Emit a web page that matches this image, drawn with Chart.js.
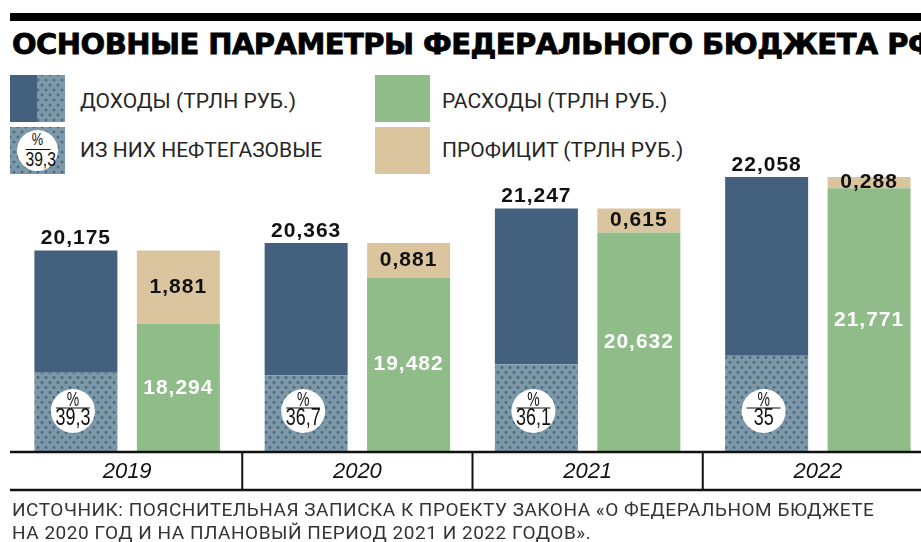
<!DOCTYPE html>
<html lang="ru">
<head>
<meta charset="utf-8">
<title>Основные параметры федерального бюджета РФ</title>
<script src="https://cdn.jsdelivr.net/npm/chart.js@4/dist/chart.umd.min.js"></script>
<style>
    html, body {
        margin: 0;
        padding: 0;
        width: 921px;
        height: 542px;
        overflow: hidden;
        background: #fff;
    }
    body { position: relative; font-family: Roboto, "Liberation Sans", sans-serif; color: #262626; }
    .rule { position: absolute; left: 10px; right: 0; top: 13px; height: 8px; background: #000; }
    .title {
        position: absolute; left: 12px; top: 27px; margin: 0;
        font: bold 29px/34px "DejaVu Sans", sans-serif;
        letter-spacing: -0.55px;
        -webkit-text-stroke: 0.8px #000;
        color: #000; white-space: nowrap;
    }
    .sw { position: absolute; width: 55px; height: 47px; }
    .dots {
        background-color: #7d99a8;
        background-image: radial-gradient(circle, #4b6985 1.2px, transparent 1.7px),
                          radial-gradient(circle, #4b6985 1.2px, transparent 1.7px);
        background-size: 8px 10px;
        background-position: 0 0, 4px 5px;
    }
    .sw-income { left: 10px; top: 75px; }
    .sw-income .solid { position: absolute; left: 0; top: 0; width: 27px; height: 100%; background: #43617f; }
    .sw-oil { left: 10px; top: 127px; }
    .sw-spend { left: 375px; top: 75px; background: #8fbc88; }
    .sw-surplus { left: 375px; top: 127px; background: #dbc59f; }
    .pct {
        position: absolute; left: 7px; top: 3px; width: 41px; height: 41px;
        border-radius: 50%; background: #fff; text-align: center; color: #111;
        font-family: "Liberation Sans", sans-serif;
    }
    .pct .p { display: block; font-size: 17px; line-height: 16px; margin-top: 2px; transform: scaleX(0.75); }
    .pct .v { display: block; width: 32px; margin: 1px auto 0; border-top: 1px solid #111;
              font-size: 20px; line-height: 19px; transform: scaleX(0.78); }
    .lbl { position: absolute; font-size: 21px; line-height: 24px; white-space: nowrap; }
    .source {
        position: absolute; left: 12px; top: 498px; margin: 0;
        font-size: 19px; line-height: 23px; letter-spacing: 0.52px; color: #333;
        white-space: nowrap;
    }
    .chart-box { position: absolute; left: 0; top: 150px; width: 945px; height: 350px; }
</style>
</head>
<body>
<div class="rule"></div>
<h1 class="title">ОСНОВНЫЕ ПАРАМЕТРЫ ФЕДЕРАЛЬНОГО БЮДЖЕТА РФ</h1>

<div class="sw sw-income dots"><div class="solid"></div></div>
<div class="lbl" style="left:80px; top:89px">ДОХОДЫ (ТРЛН РУБ.)</div>
<div class="sw sw-oil dots"><div class="pct"><span class="p">%</span><span class="v">39,3</span></div></div>
<div class="lbl" style="left:80px; top:138px">ИЗ НИХ НЕФТЕГАЗОВЫЕ</div>
<div class="sw sw-spend"></div>
<div class="lbl" style="left:442px; top:89px">РАСХОДЫ (ТРЛН РУБ.)</div>
<div class="sw sw-surplus"></div>
<div class="lbl" style="left:442px; top:138px">ПРОФИЦИТ (ТРЛН РУБ.)</div>

<div class="chart-box"><canvas id="budget"></canvas></div>

<p class="source">ИСТОЧНИК: ПОЯСНИТЕЛЬНАЯ ЗАПИСКА К ПРОЕКТУ ЗАКОНА «О ФЕДЕРАЛЬНОМ БЮДЖЕТЕ<br>НА 2020 ГОД И НА ПЛАНОВЫЙ ПЕРИОД 2021 И 2022 ГОДОВ».</p>

<script>
// Budget figures, trillion roubles
const years = ['2019', '2020', '2021', '2022'];
const income = [20.175, 20.363, 21.247, 22.058];
const expenses = [18.294, 19.482, 20.632, 21.771];
const surplus = [1.881, 0.881, 0.615, 0.288];
// oil & gas share of income, %
const oilGasShare = [39.3, 36.7, 36.1, 35];

// bars start from 15 trln, not from zero
const AXIS_MIN = 15;
const AXIS_MAX = 22.7;

const COLORS = {
    income: '#43617f',
    spend: '#8fbc88',
    surplus: '#dbc59f'
};

const fmt = (v, digits) => (digits == null ? String(v) : v.toFixed(digits)).replace('.', ',');

// dotted fill for the oil & gas part of income
const makeDots = () => {
    const tile = document.createElement('canvas');
    tile.width = 8;
    tile.height = 10;
    const t = tile.getContext('2d');
    t.fillStyle = '#7d99a8';
    t.fillRect(0, 0, 8, 10);
    t.fillStyle = '#4b6985';
    [[2, 2.5], [6, 7.5]].forEach(([x, y]) => {
        t.beginPath();
        t.arc(x, y, 1.4, 0, Math.PI * 2);
        t.fill();
    });
    return t.createPattern(tile, 'repeat');
};

const oilTop = income.map((v, i) => AXIS_MIN + (v - AXIS_MIN) * oilGasShare[i] / 100);

const valueLabels = {
    id: 'valueLabels',
    afterDatasetsDraw(chart) {
        const ctx = chart.ctx;
        const oil = chart.getDatasetMeta(0).data;
        const inc = chart.getDatasetMeta(1).data;
        const exp = chart.getDatasetMeta(2).data;
        const sur = chart.getDatasetMeta(3).data;

        ctx.save();
        ctx.textAlign = 'center';
        ctx.textBaseline = 'middle';
        ctx.font = 'bold 21px "Liberation Sans", Arial, sans-serif';
        ctx.letterSpacing = '1px';
        years.forEach((_, i) => {
            ctx.fillStyle = '#111';
            ctx.fillText(fmt(income[i], 3), inc[i].x, inc[i].y - 12);
            ctx.fillText(fmt(surplus[i], 3), sur[i].x, (sur[i].y + sur[i].base) / 2);
            ctx.fillStyle = '#fff';
            ctx.fillText(fmt(expenses[i], 3), exp[i].x, (exp[i].y + exp[i].base) / 2);
        });
        ctx.letterSpacing = '0px';

        // round badges with the oil & gas share
        years.forEach((_, i) => {
            const cx = oil[i].x - 3;
            const cy = oil[i].base - 41;
            ctx.fillStyle = '#fff';
            ctx.beginPath();
            ctx.arc(cx, cy, 22, 0, Math.PI * 2);
            ctx.fill();

            ctx.strokeStyle = '#111';
            ctx.lineWidth = 1.2;
            ctx.beginPath();
            ctx.moveTo(cx - 17, cy - 3);
            ctx.lineTo(cx + 17, cy - 3);
            ctx.stroke();

            ctx.fillStyle = '#111';
            ctx.save();
            ctx.translate(cx, cy - 11);
            ctx.scale(0.7, 1);
            ctx.font = '20px "Liberation Sans", Arial, sans-serif';
            ctx.fillText('%', 0, 0);
            ctx.restore();

            ctx.save();
            ctx.translate(cx, cy + 8);
            ctx.scale(0.78, 1);
            ctx.font = '23px "Liberation Sans", Arial, sans-serif';
            ctx.fillText(fmt(oilGasShare[i]), 0, 0);
            ctx.restore();
        });
        ctx.restore();
    }
};

// year band under the bars: rules, separators and year labels
const yearBand = {
    id: 'yearBand',
    afterDraw(chart) {
        const ctx = chart.ctx;
        const x = chart.scales.x;
        const top = chart.chartArea.bottom;
        const bottom = top + 38;
        const right = chart.width;

        ctx.save();
        ctx.strokeStyle = '#111';
        ctx.lineWidth = 2.5;
        [top, bottom].forEach(y => {
            ctx.beginPath();
            ctx.moveTo(10, y);
            ctx.lineTo(right, y);
            ctx.stroke();
        });
        ctx.lineWidth = 2;
        for (let i = 0; i < years.length - 1; i++) {
            const sx = (x.getPixelForValue(i) + x.getPixelForValue(i + 1)) / 2;
            ctx.beginPath();
            ctx.moveTo(sx, top);
            ctx.lineTo(sx, bottom);
            ctx.stroke();
        }
        ctx.fillStyle = '#111';
        ctx.textAlign = 'center';
        ctx.textBaseline = 'middle';
        ctx.font = 'italic 22px "Liberation Sans", Arial, sans-serif';
        years.forEach((yr, i) => ctx.fillText(yr, x.getPixelForValue(i), top + 20));
        ctx.restore();
    }
};

new Chart(document.getElementById('budget'), {
    type: 'bar',
    data: {
        labels: years,
        datasets: [
            {
                label: 'Из них нефтегазовые',
                stack: 'income',
                data: oilTop.map(v => [AXIS_MIN, v]),
                backgroundColor: makeDots()
            },
            {
                label: 'Доходы',
                stack: 'income',
                data: income.map((v, i) => [oilTop[i], v]),
                backgroundColor: COLORS.income
            },
            {
                label: 'Расходы',
                stack: 'spend',
                data: expenses.map(v => [AXIS_MIN, v]),
                backgroundColor: COLORS.spend
            },
            {
                label: 'Профицит',
                stack: 'spend',
                data: expenses.map((v, i) => [v, v + surplus[i]]),
                backgroundColor: COLORS.surplus
            }
        ]
    },
    options: {
        responsive: true,
        maintainAspectRatio: false,
        animation: false,
        categoryPercentage: 0.89,
        barPercentage: 0.81,
        layout: { padding: { left: 12, right: 12, top: 2, bottom: 48 } },
        scales: {
            x: { display: false },
            y: { display: false, stacked: false, min: AXIS_MIN, max: AXIS_MAX }
        },
        plugins: {
            legend: { display: false },
            tooltip: { enabled: false }
        }
    },
    plugins: [valueLabels, yearBand]
});
</script>
</body>
</html>
